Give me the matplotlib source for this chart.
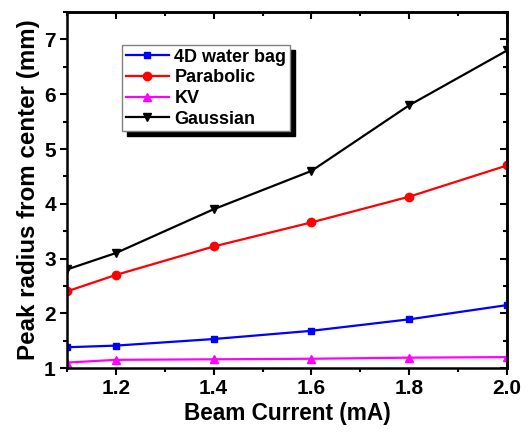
import matplotlib
matplotlib.use("Agg")
import matplotlib.pyplot as plt
from matplotlib.ticker import MultipleLocator

# Data
current = [1.1, 1.2, 1.4, 1.6, 1.8, 2.0]
water_bag = [1.38, 1.41, 1.53, 1.68, 1.89, 2.15]
parabolic = [2.40, 2.70, 3.22, 3.66, 4.13, 4.70]
kv = [1.10, 1.15, 1.16, 1.17, 1.19, 1.20]
gaussian = [2.80, 3.10, 3.90, 4.60, 5.80, 6.80]
x_ticks = [1.2, 1.4, 1.6, 1.8, 2.0]

plt.rcParams['font.family'] = ['Liberation Sans', 'DejaVu Sans']
plt.rcParams['font.weight'] = 'bold'

fig = plt.figure(figsize=(5.31, 4.32), dpi=100)
ax = fig.add_axes([0.126, 0.148, 0.829, 0.824])

ax.plot(current, water_bag, color='#0000ff', marker='s', markersize=5, lw=1.6, label='4D water bag')
ax.plot(current, parabolic, color='#ff0000', marker='o', markersize=6, lw=1.6, label='Parabolic')
ax.plot(current, kv, color='#ff00ff', marker='^', markersize=6, lw=1.6, label='KV')
ax.plot(current, gaussian, color='#000000', marker='v', markersize=6, lw=1.6, label='Gaussian')

ax.set_xlim(1.1, 2.0)
ax.set_ylim(1, 7.5)
ax.set_xticks(x_ticks)
ax.xaxis.set_minor_locator(MultipleLocator(0.1))
ax.yaxis.set_major_locator(MultipleLocator(1))
ax.yaxis.set_minor_locator(MultipleLocator(0.5))
ax.tick_params(which='both', direction='out', width=1.5, labelsize=15, pad=3)
ax.tick_params(which='major', length=5)
ax.tick_params(which='minor', length=3)
for s in ax.spines.values():
    s.set_linewidth(1.8)

# mirrored axes on top and right with inward ticks, no labels
top = ax.secondary_xaxis('top')
top.set_xticks(x_ticks)
top.xaxis.set_minor_locator(MultipleLocator(0.1))
top.tick_params(which='both', direction='in', width=1.5, labeltop=False)
top.tick_params(which='major', length=5)
top.tick_params(which='minor', length=3)
top.spines['top'].set_linewidth(1.8)
right = ax.secondary_yaxis('right')
right.yaxis.set_major_locator(MultipleLocator(1))
right.yaxis.set_minor_locator(MultipleLocator(0.5))
right.tick_params(which='both', direction='in', width=1.5, labelright=False)
right.tick_params(which='major', length=5)
right.tick_params(which='minor', length=3)
right.spines['right'].set_linewidth(1.8)

ax.set_xlabel('Beam Current (mA)', fontsize=16.3, fontweight='bold', labelpad=3)
ax.set_ylabel('Peak radius from center (mm)', fontsize=17.4, fontweight='bold', labelpad=3)

# legend with a solid black drop shadow, offset about 5 px right and down
leg = ax.legend(loc='upper left', bbox_to_anchor=(0.125, 0.907), fontsize=13,
                fancybox=False, framealpha=1, handlelength=2.4, borderpad=0.2,
                labelspacing=0.2, handletextpad=0.3, borderaxespad=0,
                shadow={'ox': 3.6, 'oy': -3.6, 'color': 'black', 'alpha': 1})
frame = leg.get_frame()
frame.set_edgecolor('#808080')
frame.set_linewidth(1)

fig.savefig('out.png', dpi=100)
